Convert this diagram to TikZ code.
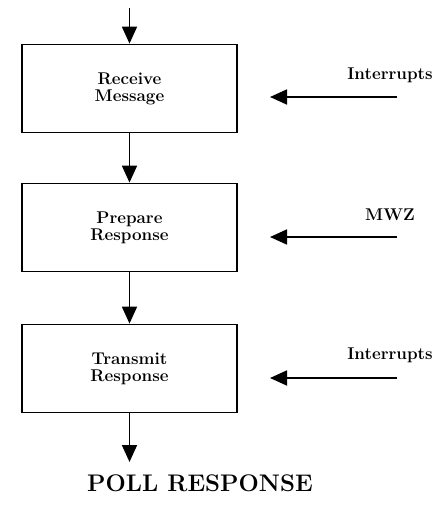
\documentclass[tikz,border=0pt]{standalone}
\usetikzlibrary{arrows.meta}

\begin{document}
\begin{tikzpicture}[x=1pt,y=-1pt,
 every node/.style={font=\fontsize{17}{17}\selectfont\bfseries,align=center},
 stage/.style={draw,line width=1.8pt,minimum width=215pt,minimum height=88pt,inner sep=0pt},
 flow/.style={line width=1.8pt,-{Triangle[length=17pt,width=15pt]}},
 signal/.style={anchor=center,font=\fontsize{17}{20}\selectfont\bfseries},
 result/.style={font=\fontsize{24}{28}\selectfont\bfseries}]
 \path[use as bounding box] (0,0) rectangle (439,506);
 % processing chain
 \coordinate (start) at (129.5,8);
 \node[stage] (recv) at (129.5,88.5) {Receive\\Message};
 \node[stage] (prep) at (129.5,227.5) {Prepare\\Response};
 \node[stage] (xmit) at (129.5,368.5) {Transmit\\Response};
 \coordinate (done) at (129.5,462);
 \node[result] (poll) at (200,483) {POLL RESPONSE};
 \draw[flow] (start) -- (recv);
 \draw[flow] (recv) -- (prep);
 \draw[flow] (prep) -- (xmit);
 \draw[flow] (xmit) -- (done);
 % side inputs
 \node[signal] (irqa) at (390,75) {Interrupts};
 \node[signal] (mwz) at (390,215) {MWZ};
 \node[signal] (irqb) at (390,355) {Interrupts};
 \coordinate (irqa-from) at (397,97);
 \coordinate (irqa-to) at (270,97);
 \coordinate (mwz-from) at (397,237);
 \coordinate (mwz-to) at (270,237);
 \coordinate (irqb-from) at (397,378);
 \coordinate (irqb-to) at (270,378);
 \draw[flow] (irqa-from) -- (irqa-to);
 \draw[flow] (mwz-from) -- (mwz-to);
 \draw[flow] (irqb-from) -- (irqb-to);
\end{tikzpicture}
\end{document}
